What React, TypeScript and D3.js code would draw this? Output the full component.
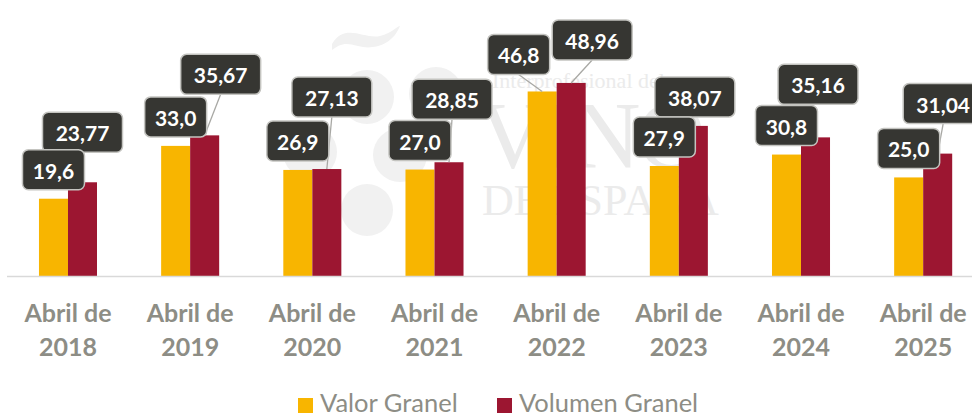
import React from "react";
import * as d3 from "d3";

const categories = ["2018", "2019", "2020", "2021", "2022", "2023", "2024", "2025"];
const categoryPrefix = "Abril de";
const valorGranel = [19.6, 33.0, 26.9, 27.0, 46.8, 27.9, 30.8, 25.0];
const volumenGranel = [23.77, 35.67, 27.13, 28.85, 48.96, 38.07, 35.16, 31.04];
const valorLabels = ["19,6", "33,0", "26,9", "27,0", "46,8", "27,9", "30,8", "25,0"];
const volumenLabels = ["23,77", "35,67", "27,13", "28,85", "48,96", "38,07", "35,16", "31,04"];
const seriesNames = ["Valor Granel", "Volumen Granel"];

// label layout (manual placements as in the source): [dx, gap above bar, leader line]
const valorLabelLayout: [number, number, boolean][] = [
  [0, 9, false], [0, 9, false], [0, 9, false], [0, 9, false],
  [-23.5, 17, true], [0, 9, false], [0, 9, false], [0, 9, false],
];
const volumenLabelLayout: [number, number, boolean][] = [
  [0, 30, false], [16, 41, true], [5, 52, true], [3, 43, true],
  [21, 23, true], [1.5, 9, false], [2.5, 33, false], [5.5, 30, true],
];

const W = 972;
const H = 415;
const COLORS = ["#F8B500", "#9C1631"];
const GRAY_TEXT = "#8d8d85";

export default function App() {
  const baseY = 276;
  const x = d3
    .scaleBand<string>()
    .domain(categories)
    .range([6.9, 6.9 + 8 * 122.17])
    .paddingInner(0.525)
    .paddingOuter(0.2625);
  const xs = d3.scaleBand<number>().domain([0, 1]).range([0, x.bandwidth()]);
  const y = d3.scaleLinear().domain([0, 70]).range([baseY, 0]);

  const series = [valorGranel, volumenGranel];
  const labels = [valorLabels, volumenLabels];
  const layouts = [valorLabelLayout, volumenLabelLayout];

  const boxH = 40;
  const boxW = (s: string) => 62 + (s.length - 4) * 18;

  type Lbl = { cx: number; bottom: number; text: string; bx: number; by: number; line: boolean; s: number };
  const lbls: Lbl[] = [];
  [1, 0].forEach((s) => {
    categories.forEach((c, i) => {
      const barCx = (x(c) ?? 0) + (xs(s) ?? 0) + xs.bandwidth() / 2;
      const top = y(series[s][i]);
      const [dx, gap, line] = layouts[s][i];
      lbls.push({ cx: barCx + dx, bottom: top - gap, text: labels[s][i], bx: barCx, by: top, line, s });
    });
  });

  return (
    <svg
      width={W}
      height={H}
      style={{ position: "absolute", left: 0, top: 0, background: "#ffffff" }}
      fontFamily="Lato, 'Open Sans', sans-serif"
    >
      {/* watermark */}
      <g fill="#f1f1f1">
        <path d="M332,44 C345,22 365,40 380,36 C392,33 396,27 400,26 C392,46 372,50 358,46 C345,42 340,44 332,50 Z" />
        <circle cx={367} cy={97} r={27} />
        <circle cx={436} cy={94} r={27} />
        <circle cx={310} cy={152} r={27} />
        <circle cx={400} cy={155} r={27} />
        <circle cx={367} cy={210} r={26} />
      </g>
      <g fill="#ebebeb" fontFamily="'Liberation Serif', 'DejaVu Serif', serif">
        <text x={492} y={88} fontSize={22}>Interprofesional del</text>
        <text x={478} y={168} fontSize={96} letterSpacing={-4}>VINO</text>
        <text x={482} y={215} fontSize={44}>DE ESPAÑA</text>
      </g>

      {/* bars */}
      {series.map((vals, s) => (
        <g key={s} fill={COLORS[s]}>
          {categories.map((c, i) => (
            <rect
              key={c}
              x={(x(c) ?? 0) + (xs(s) ?? 0)}
              y={y(vals[i])}
              width={xs.bandwidth()}
              height={baseY - y(vals[i])}
            />
          ))}
        </g>
      ))}

      {/* baseline */}
      <line x1={7} x2={W} y1={baseY + 0.5} y2={baseY + 0.5} stroke="#d9d9d9" strokeWidth={1.5} />

      {/* category labels */}
      {categories.map((c) => {
        const cx = (x(c) ?? 0) + x.bandwidth() / 2;
        return (
          <text key={c} x={cx} textAnchor="middle" fill={GRAY_TEXT} fontWeight={700} fontSize={25}>
            <tspan x={cx} y={322}>{categoryPrefix}</tspan>
            <tspan x={cx} y={356}>{c}</tspan>
          </text>
        );
      })}

      {/* leader lines */}
      {lbls.filter((l) => l.line).map((l, k) => (
        <line key={k} x1={l.cx} y1={l.bottom} x2={l.bx} y2={l.by} stroke="#a8a8a4" strokeWidth={1.3} />
      ))}

      {/* data label boxes */}
      {lbls.map((l, k) => {
        const w = boxW(l.text);
        return (
          <g key={k}>
            <rect
              x={l.cx - w / 2}
              y={l.bottom - boxH}
              width={w}
              height={boxH}
              rx={6}
              fill="#363632"
              stroke="#c4c4c0"
              strokeWidth={1.5}
            />
            <text x={l.cx} y={l.bottom - 11} textAnchor="middle" fill="#ffffff" fontWeight={700} fontSize={21}>
              {l.text}
            </text>
          </g>
        );
      })}

      {/* legend */}
      {seriesNames.map((n, s) => {
        const lx = s === 0 ? 298 : 497;
        return (
          <g key={n}>
            <rect x={lx} y={398} width={15} height={15} fill={COLORS[s]} />
            <text x={lx + 22} y={412} fill={GRAY_TEXT} fontSize={25.5}>{n}</text>
          </g>
        );
      })}
    </svg>
  );
}
